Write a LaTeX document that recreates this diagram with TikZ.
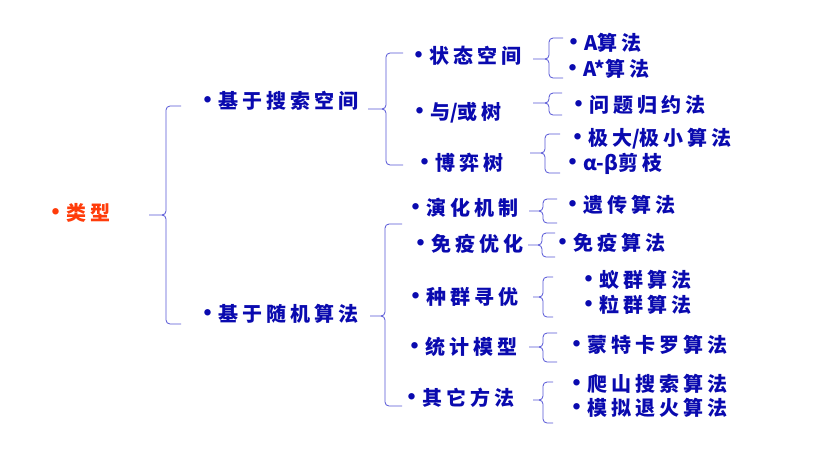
\documentclass[tikz,border=0pt]{standalone}
\usepackage{fontspec}
\newfontfamily\cjk[LetterSpace=20]{Noto Sans CJK SC}
\newfontfamily\cjkn{Noto Sans CJK SC}
\newcommand\bul{{\cjkn\fontsize{23}{23}\selectfont •}\kern-1pt}
\newcommand\lat[1]{{\cjkn #1}}
\definecolor{txtblue}{RGB}{10,10,175}
\definecolor{brblue}{RGB}{85,85,215}
\definecolor{rootred}{RGB}{255,60,10}
\tikzset{
  lbl/.style={anchor=west, inner sep=0pt, text=txtblue, font=\cjk\bfseries\fontsize{20}{22}\selectfont},
  rootlbl/.style={lbl, text=rootred},
  brc/.style={draw=brblue, line width=0.8pt}
}
\newcommand\mybrc[6]{%
  \draw[brc] (#3,#4) -- ({#2+4},#4) to[out=180,in=90] (#2,{#4+4}) -- (#2,{#5-4}) to[out=-90,in=0] ({#2-4},#5) -- (#1,#5);
  \draw[brc] ({#2-4},#5) to[out=0,in=90] (#2,{#5+4}) -- (#2,{#6-4}) to[out=-90,in=180] ({#2+4},#6) -- (#3,#6);}
\begin{document}
\begin{tikzpicture}[x=1pt,y=-1pt]
\useasboundingbox[fill=white] (0,0) rectangle (835,448);
% texts
\node[rootlbl] (root) at (44,213) {\bul 类型};
\node[lbl] (s1) at (196,101) {\bul 基于搜索空间};
\node[lbl] (s2) at (196,314) {\bul 基于随机算法};
\node[lbl] (a1) at (407,56) {\bul 状态空间};
\node[lbl] (a2) at (408,113) {\bul 与\lat{/}或树};
\node[lbl] (a3) at (413,163) {\bul 博弈树};
\node[lbl] (b1) at (404,208) {\bul 演化机制};
\node[lbl] (b2) at (409,244) {\bul 免疫优化};
\node[lbl] (b3) at (404,297) {\bul 种群寻优};
\node[lbl] (b4) at (403,347) {\bul 统计模型};
\node[lbl] (b5) at (400,398) {\bul 其它方法};
\node[lbl] (c1) at (562,43) {\bul\lat{A}算法};
\node[lbl] (c2) at (561,69) {\bul\lat{A*}算法};
\node[lbl] (c3) at (567,105) {\bul 问题归约法};
\node[lbl] (c4) at (566,139) {\bul 极大\lat{/}极小算法};
\node[lbl] (c5) at (561,164) {\bul\lat{α-β}剪枝};
\node[lbl] (d1) at (561,205) {\bul 遗传算法};
\node[lbl] (d2) at (551,243) {\bul 免疫算法};
\node[lbl] (d3) at (577,280) {\bul 蚁群算法};
\node[lbl] (d4) at (577,305) {\bul 粒群算法};
\node[lbl] (d5) at (565,345) {\bul 蒙特卡罗算法};
\node[lbl] (d6) at (565,384) {\bul 爬山搜索算法};
\node[lbl] (d7) at (565,408) {\bul 模拟退火算法};
% braces
\mybrc{149}{166}{181}{106}{215}{324}
\mybrc{368}{386}{403}{53}{109}{165}
\mybrc{370}{385}{402}{224}{316}{406}
\mybrc{533}{549}{563}{38}{59}{78}
\mybrc{533}{549}{562}{93}{103}{115}
\mybrc{530}{545}{560}{134}{153}{173}
\mybrc{529}{543}{557}{199}{211}{223}
\mybrc{528}{542}{555}{233}{245}{257}
\mybrc{533}{543}{553}{277}{297}{317}
\mybrc{529}{543}{557}{333}{347}{362}
\mybrc{533}{543}{553}{382}{400}{423}
\end{tikzpicture}
\end{document}
